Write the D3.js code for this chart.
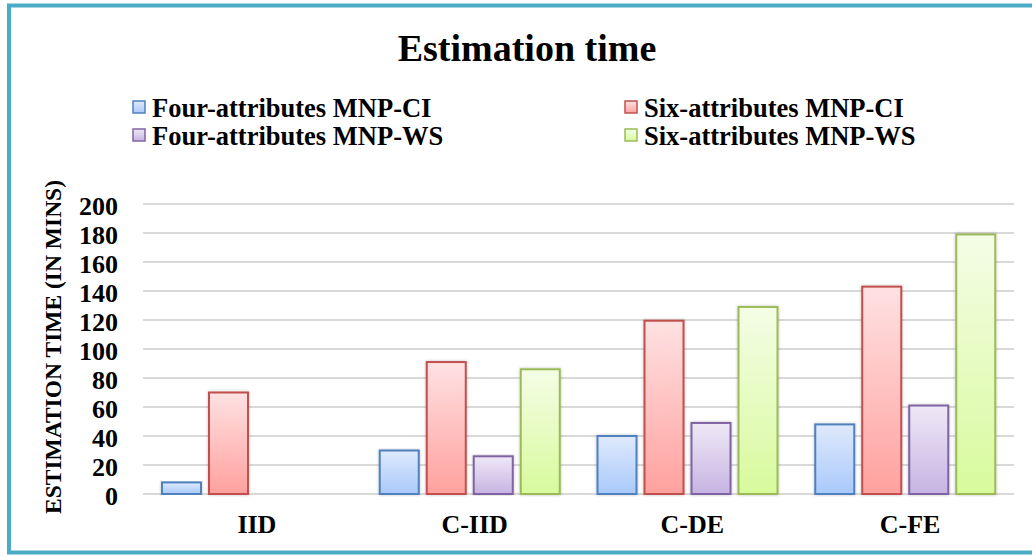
<!DOCTYPE html>
<html>
<head>
<meta charset="utf-8">
<script src="https://cdn.jsdelivr.net/npm/d3@7"></script>
<style>
html,body{margin:0;padding:0;background:#fff;}
svg{display:block;}
text{font-family:"Liberation Serif","Times New Roman",serif;font-weight:bold;fill:#000;}
</style>
</head>
<body>
<svg id="chart" width="1032" height="557"></svg>
<script>
const categories = ["IID", "C-IID", "C-DE", "C-FE"];
const seriesNames = ["Four-attributes MNP-CI", "Six-attributes MNP-CI", "Four-attributes MNP-WS", "Six-attributes MNP-WS"];
const fourCI = [8, 30, 40, 48];
const sixCI = [70, 91, 119.5, 143];
const fourWS = [null, 26, 49, 61];
const sixWS = [null, 86, 129, 179];
const yTicks = [0, 20, 40, 60, 80, 100, 120, 140, 160, 180, 200];
const title = "Estimation time";
const yTitle = "ESTIMATION TIME (IN MINS)";

const seriesValues = [fourCI, sixCI, fourWS, sixWS];
const strokes = ["#4f81bd", "#c0504d", "#8064a2", "#9bbb59"];
const gradTop = ["#dfe9fc", "#ffe1e2", "#efe8f7", "#f4fde6"];
const gradBot = ["#a9c9fb", "#ffa19e", "#c6b4e2", "#d8fa9c"];

const svg = d3.select("#chart");
const defs = svg.append("defs");
seriesNames.forEach((s, i) => {
  const g = defs.append("linearGradient").attr("id", "g" + i)
    .attr("x1", 0).attr("y1", 0).attr("x2", 0).attr("y2", 1);
  g.append("stop").attr("offset", "0%").attr("stop-color", gradTop[i]);
  g.append("stop").attr("offset", "100%").attr("stop-color", gradBot[i]);
});
const f = defs.append("filter").attr("id", "sh").attr("x", "-20%").attr("y", "-5%").attr("width", "140%").attr("height", "110%");
f.append("feDropShadow").attr("dx", 0).attr("dy", 0).attr("stdDeviation", 1.5).attr("flood-color", "#000").attr("flood-opacity", 0.25);

// frame
svg.append("rect").attr("x", 9).attr("y", 5.5).attr("width", 1040).attr("height", 547)
  .attr("fill", "none").attr("stroke", "#4bacc6").attr("stroke-width", 4);

const x0 = 143, x1 = 1014;
const y = d3.scaleLinear().domain([0, 200]).range([494, 204]);
const xb = d3.scaleBand().domain(categories).range([x0, x1]).padding(0);
const xs = d3.scaleBand().domain(d3.range(4)).range([19, 19 + 4 * 47 - 8]).paddingInner(8 / 47).paddingOuter(0);

// grid
svg.append("g").selectAll("line").data(yTicks).join("line")
  .attr("x1", x0).attr("x2", x1)
  .attr("y1", d => y(d)).attr("y2", d => y(d))
  .attr("stroke", "#d9d9d9").attr("stroke-width", 2);

// y tick labels
const yAxis = d3.axisLeft(y).tickValues(yTicks).tickSize(0).tickPadding(0);
const ya = svg.append("g").attr("transform", "translate(118,1)").call(yAxis);
ya.select(".domain").remove();
ya.selectAll("text").attr("font-size", 26).attr("dy", "0.35em")
  .style("font-family", '"Liberation Serif",serif').style("font-weight", "bold");

// x labels
const xAxis = d3.axisBottom(xb).tickSize(0).tickPadding(0);
const xa = svg.append("g").attr("transform", "translate(5,515)").call(xAxis);
xa.select(".domain").remove();
xa.selectAll("text").attr("font-size", 26).attr("dy", "0.71em")
  .style("font-family", '"Liberation Serif",serif').style("font-weight", "bold");

// bars
const groups = svg.append("g").selectAll("g").data(categories).join("g")
  .attr("transform", d => "translate(" + xb(d) + ",0)");
groups.selectAll("rect").data((c, ci) => seriesValues.map((arr, si) => ({si, v: arr[ci]})).filter(d => d.v != null))
  .join("rect")
  .attr("x", d => xs(d.si)).attr("width", xs.bandwidth())
  .attr("y", d => y(d.v)).attr("height", d => y(0) - y(d.v))
  .attr("fill", d => "url(#g" + d.si + ")")
  .attr("stroke", d => strokes[d.si]).attr("stroke-width", 2)
  .attr("filter", "url(#sh)");

// title
svg.append("text").attr("x", 527).attr("y", 61).attr("text-anchor", "middle")
  .attr("font-size", 38).text(title);

// y title
svg.append("text").attr("transform", "translate(61,347) rotate(-90)")
  .attr("text-anchor", "middle").attr("font-size", 23.5).text(yTitle);

// legend
const legPos = [[133, 108], [625, 108], [133, 136], [625, 136]];
const leg = svg.append("g").selectAll("g").data(seriesNames).join("g")
  .attr("transform", (d, i) => "translate(" + legPos[i][0] + "," + legPos[i][1] + ")");
leg.append("rect").attr("x", 0).attr("y", -7).attr("width", 12).attr("height", 12)
  .attr("fill", (d, i) => "url(#g" + i + ")")
  .attr("stroke", (d, i) => strokes[i]).attr("stroke-width", 1.5);
leg.append("text").attr("x", 19).attr("y", 0).attr("dy", "0.35em")
  .attr("font-size", 26.5).text(d => d);
</script>
</body>
</html>
